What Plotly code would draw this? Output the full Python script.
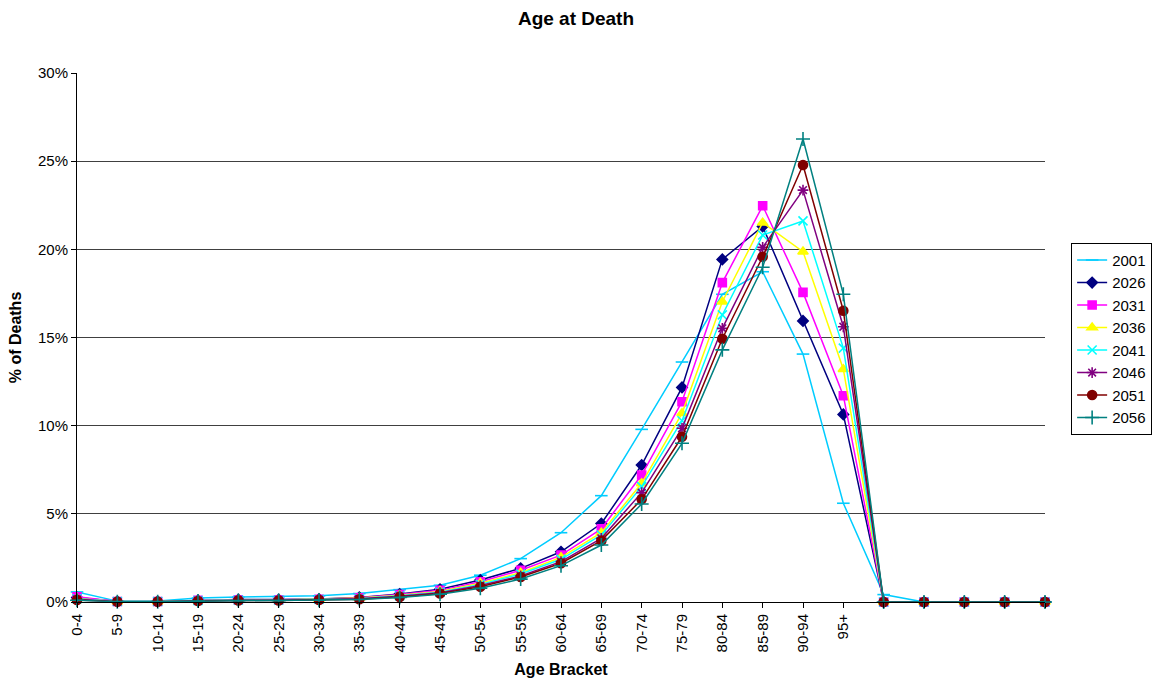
import plotly.graph_objects as go

ages = ['0-4', '5-9', '10-14', '15-19', '20-24', '25-29', '30-34', '35-39', '40-44', '45-49',
        '50-54', '55-59', '60-64', '65-69', '70-74', '75-79', '80-84', '85-89', '90-94', '95+',
        '', '', '', '', '']

y2001 = [0.57, 0.05, 0.05, 0.22, 0.28, 0.30, 0.35, 0.48, 0.70, 0.95, 1.52, 2.46, 3.93, 6.03, 9.79, 13.61, 17.45, 18.73, 14.06, 5.60, 0.42, 0, 0, 0, 0]
y2026 = [0.25, 0.03, 0.03, 0.10, 0.14, 0.14, 0.17, 0.26, 0.45, 0.72, 1.25, 1.91, 2.85, 4.45, 7.77, 12.17, 19.43, 21.30, 15.94, 10.64, 0, 0, 0, 0, 0]
y2031 = [0.30, 0.03, 0.03, 0.10, 0.13, 0.13, 0.16, 0.24, 0.42, 0.66, 1.15, 1.80, 2.66, 4.15, 7.20, 11.36, 18.11, 22.47, 17.56, 11.70, 0, 0, 0, 0, 0]
y2036 = [0.20, 0.03, 0.03, 0.09, 0.12, 0.12, 0.15, 0.22, 0.38, 0.60, 1.07, 1.66, 2.53, 3.93, 6.73, 10.70, 17.03, 21.51, 19.87, 13.20, 0, 0, 0, 0, 0]
y2041 = [0.18, 0.03, 0.03, 0.08, 0.11, 0.11, 0.14, 0.20, 0.35, 0.56, 1.00, 1.59, 2.42, 3.80, 6.54, 10.28, 16.28, 20.81, 21.61, 14.40, 0, 0, 0, 0, 0]
y2046 = [0.15, 0.02, 0.02, 0.07, 0.10, 0.10, 0.13, 0.18, 0.32, 0.52, 0.93, 1.48, 2.29, 3.61, 6.20, 9.85, 15.52, 20.11, 23.36, 15.61, 0, 0, 0, 0, 0]
y2051 = [0.12, 0.02, 0.02, 0.06, 0.09, 0.09, 0.12, 0.16, 0.29, 0.48, 0.86, 1.42, 2.20, 3.48, 5.82, 9.37, 14.93, 19.58, 24.78, 16.52, 0, 0, 0, 0, 0]
y2056 = [0.10, 0.02, 0.02, 0.05, 0.08, 0.08, 0.10, 0.14, 0.26, 0.44, 0.78, 1.30, 2.06, 3.23, 5.56, 9.00, 14.30, 18.98, 26.26, 17.45, 0, 0, 0, 0, 0]

series_names = ['2001', '2026', '2031', '2036', '2041', '2046', '2051', '2056']
series_values = [y2001, y2026, y2031, y2036, y2041, y2046, y2051, y2056]
y_ticks = [0, 5, 10, 15, 20, 25, 30]
y_tick_labels = ['0%', '5%', '10%', '15%', '20%', '25%', '30%']

colors = ['#00CCFF', '#000080', '#FF00FF', '#FFFF00', '#00FFFF', '#800080', '#800000', '#008080']
symbols = ['line-ew', 'diamond', 'square', 'triangle-up', 'x-thin', 'asterisk', 'circle', 'cross-thin']
sizes = [9, 8, 8, 9, 9, 9, 9, 10]

x = list(range(len(ages)))

fig = go.Figure()
for name, vals, col, sym, sz in zip(series_names, series_values, colors, symbols, sizes):
    fig.add_trace(go.Scatter(
        x=x, y=vals, name=name, mode='lines+markers',
        legendgroup=name,
        line=dict(color=col, width=1.5),
        marker=dict(symbol=sym, size=sz, color=col, line=dict(color=col, width=1.6)),
        cliponaxis=False,
    ))

fig.update_layout(
    width=1152, height=683,
    paper_bgcolor='white', plot_bgcolor='white',
    margin=dict(l=77, r=107, t=73, b=81, autoexpand=False),
    font=dict(family='Liberation Sans, Arial, sans-serif', size=15, color='black'),
    title=dict(text='<b>Age at Death</b>', x=0.5, xanchor='center', y=1 - 18 / 683, yanchor='middle',
               font=dict(size=19, color='black')),
    showlegend=True,
    legend=dict(x=1.027, xanchor='left', y=0.679, yanchor='top',
                bgcolor='white', bordercolor='black', borderwidth=1,
                font=dict(size=15), tracegroupgap=0, itemwidth=30),
    xaxis=dict(
        range=[0, len(ages) - 1], tickmode='array', tickvals=x, ticktext=ages,
        tickangle=-90, showline=True, linecolor='black', linewidth=1,
        ticks='outside', ticklen=5, tickcolor='black', showgrid=False, zeroline=False,
        tickfont=dict(size=15), automargin=False,
        title=dict(text='<b>Age Bracket</b>', font=dict(size=16), standoff=12),
    ),
    yaxis=dict(
        range=[0, 30], tickmode='array', tickvals=y_ticks, ticktext=y_tick_labels,
        showline=True, linecolor='black', linewidth=1,
        ticks='outside', ticklen=5, tickcolor='black',
        showgrid=True, gridcolor='#404040', gridwidth=1, zeroline=False,
        tickfont=dict(size=15), automargin=False,
        title=dict(text='<b>% of Deaths</b>', font=dict(size=16), standoff=12),
    ),
)

fig.write_html('out.html', config={'displayModeBar': False},
               post_script="document.body.style.margin='0';document.body.style.overflow='hidden';")
